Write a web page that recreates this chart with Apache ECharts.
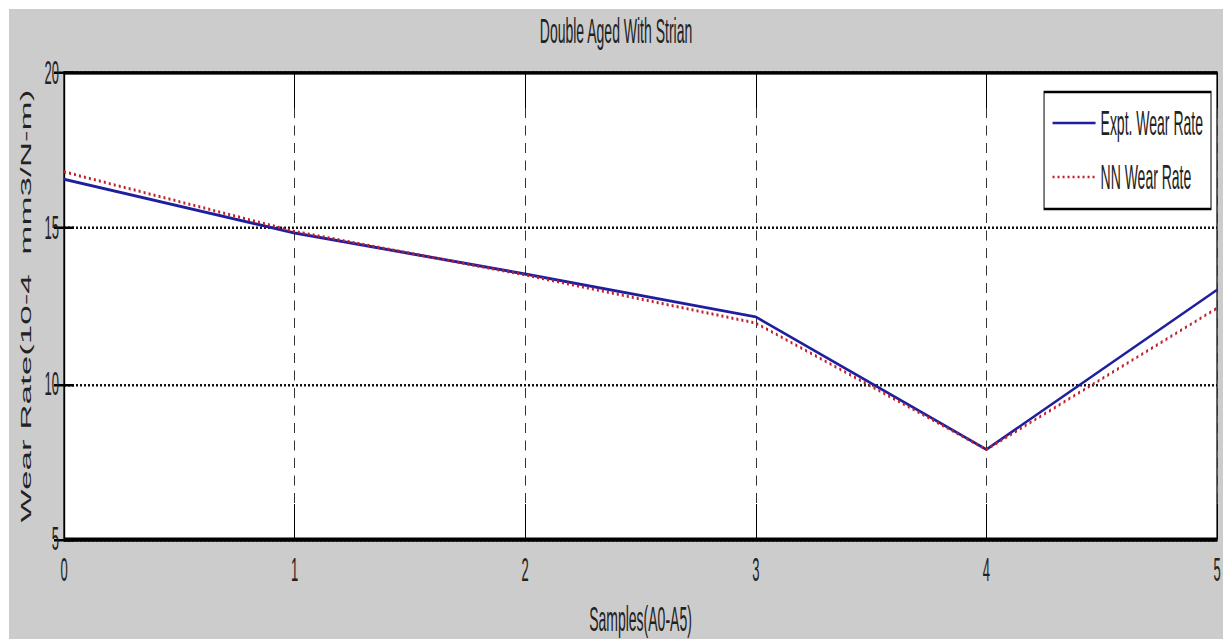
<!DOCTYPE html>
<html>
<head>
<meta charset="utf-8">
<script src="https://cdn.jsdelivr.net/npm/echarts@6/dist/echarts.min.js"></script>
<style>
  html, body { margin: 0; padding: 0; background: #ffffff; width: 1223px; height: 639px; overflow: hidden; }
  #chart {
    position: absolute; left: 9px; top: 9px;
    width: 1214px; height: 252px;
    transform: scaleY(2.5); transform-origin: 0 0;
  }
</style>
</head>
<body>
<div id="chart"></div>
<script>
// ---- data ----
const samples = [0, 1, 2, 3, 4, 5];
const exptWearRate = [16.58, 14.85, 13.53, 12.15, 7.88, 13.02];
const nnWearRate   = [16.82, 14.9, 13.5, 11.95, 7.88, 12.43];
const seriesNames = ['Expt. Wear Rate', 'NN Wear Rate'];
const yTicks = [5, 10, 15, 20];
const xTicks = [0, 1, 2, 3, 4, 5];

const FONT = 'Liberation Sans, Arial, Helvetica, sans-serif';
const chart = echarts.init(document.getElementById('chart'), null, { renderer: 'svg' });

const xData1 = samples.map((x, i) => [x, exptWearRate[i]]);
const xData2 = samples.map((x, i) => [x, nnWearRate[i]]);

chart.setOption({
  backgroundColor: '#cccccc',
  animation: false,
  title: {
    text: 'Double Aged With Strian',
    left: 'center', top: 2, padding: 0,
    textStyle: { fontFamily: FONT, fontSize: 14, fontWeight: 'normal', color: '#222' }
  },
  grid: {
    left: 55, right: 6, top: 25.6, bottom: 40,
    containLabel: false, outerBoundsMode: 'none',
    show: true, backgroundColor: '#ffffff', borderColor: '#000', borderWidth: 1.2
  },
  legend: {
    data: seriesNames,
    orient: 'vertical',
    right: 12, top: 33.2,
    padding: [5.4, 8, 5.8, 8],
    itemGap: 7.6,
    itemWidth: 43, itemHeight: 14,
    backgroundColor: '#ffffff',
    borderColor: '#000', borderWidth: 1,
    itemStyle: { opacity: 0 },
    lineStyle: { width: 1 },
    textStyle: { fontFamily: FONT, fontSize: 14, color: '#222' }
  },
  xAxis: [{
    type: 'value', min: 0, max: 5, interval: 1,
    name: 'Samples(A0-A5)', nameLocation: 'middle', nameGap: 25,
    nameTextStyle: { fontFamily: FONT, fontSize: 14, color: '#222' },
    axisLine: { show: true, lineStyle: { color: '#000', width: 1.2 } },
    axisTick: { show: true, inside: true, length: 14, lineStyle: { color: '#000', width: 1 } },
    axisLabel: { fontFamily: FONT, fontSize: 13, color: '#222', margin: 6,
      formatter: v => xTicks.includes(v) ? String(v) : '' },
    splitLine: { show: true, lineStyle: { color: '#333', width: 1, type: [4, 3] } }
  }, {
    type: 'value', min: 0, max: 5, interval: 1, position: 'top',
    axisLine: { show: true, lineStyle: { color: '#000', width: 1.2 } },
    axisTick: { show: true, inside: true, length: 14, lineStyle: { color: '#000', width: 1 } },
    axisLabel: { show: false }, splitLine: { show: false }
  }],
  yAxis: [{
    type: 'value', min: 5, max: 20, interval: 5,
    name: 'Wear Rate(10-4  mm3/N-m)', nameLocation: 'middle', nameGap: 30, nameRotate: 90,
    nameTextStyle: { fontFamily: FONT, fontSize: 14, color: '#222' },
    axisLine: { show: true, lineStyle: { color: '#000', width: 1.2 } },
    axisTick: { show: true, inside: true, length: 10, lineStyle: { color: '#000', width: 1 } },
    axisLabel: { fontFamily: FONT, fontSize: 13, color: '#222', margin: 5,
      formatter: v => yTicks.includes(v) ? String(v) : '' },
    splitLine: { show: true, lineStyle: { color: '#111', width: 1, type: [2, 2] } }
  }, {
    type: 'value', min: 5, max: 20, interval: 5, position: 'right',
    axisLine: { show: true, lineStyle: { color: '#000', width: 1.2 } },
    axisTick: { show: true, inside: true, length: 10, lineStyle: { color: '#000', width: 1 } },
    axisLabel: { show: false }, splitLine: { show: false }
  }],
  series: [{
    name: seriesNames[0], type: 'line', data: xData1,
    symbol: 'none', z: 3,
    lineStyle: { color: '#1f1f9e', width: 1.2, type: 'solid' },
    itemStyle: { color: '#1f1f9e' }
  }, {
    name: seriesNames[1], type: 'line', data: xData2,
    symbol: 'none', z: 4,
    lineStyle: { color: '#c0202a', width: 1.2, type: [2, 3] },
    itemStyle: { color: '#c0202a' }
  }]
});
</script>
</body>
</html>
